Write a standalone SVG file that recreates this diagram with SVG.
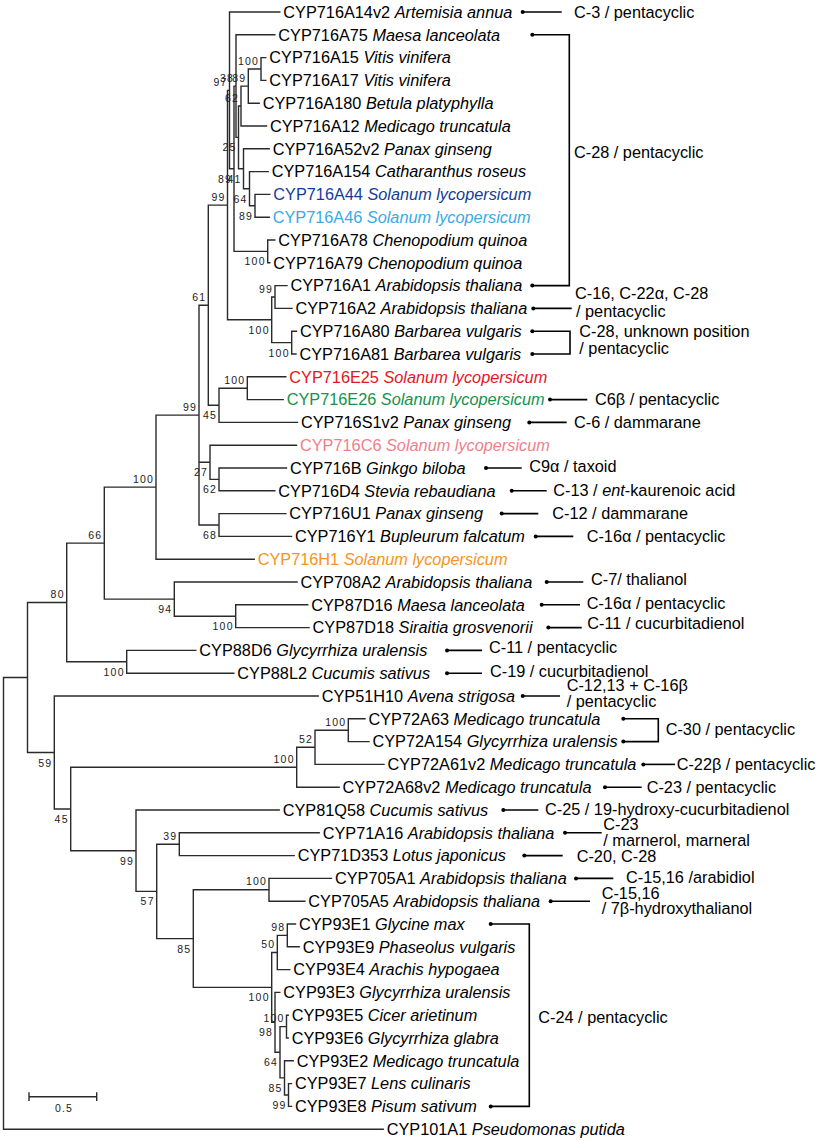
<svg xmlns="http://www.w3.org/2000/svg" width="819" height="1140" viewBox="0 0 819 1140">
<style>
.lf{font-family:"Liberation Sans",Arial,Helvetica,sans-serif;font-size:16.3px;fill:#000}
.sp{font-style:italic}
.bs{font-family:"Liberation Sans",Arial,Helvetica,sans-serif;font-size:10.5px;letter-spacing:1.2px;fill:#222;text-anchor:end}
.an{font-family:"Liberation Sans",Arial,Helvetica,sans-serif;font-size:16.3px;fill:#000}
.tr{fill:none;stroke:#2a2a2a;stroke-width:1.4;stroke-linecap:square}
.al{fill:none;stroke:#000;stroke-width:1.6}
.dt{fill:#000}
</style>
<rect width="819" height="1140" fill="#fff"/>
<g id="connectors">
<path class="tr" d="M3.5,677.5V1129.2M3.5,677.5H27.5M3.5,1129.2H383.2
M27.5,602.5V752.5M27.5,602.5H66.7M27.5,752.5H54.3
M66.7,543.1V661.8M66.7,543.1H104.3M66.7,661.8H126.7
M104.3,487.15V599.1M104.3,487.15H156M104.3,599.1H174.3
M156,415.1V559.2M156,415.1H199M156,559.2H254.2
M199,305.2V525M199,305.2H208.3M199,462.3H210M199,525H219
M208.3,205.1V405.3M208.3,205.1H227.5M208.3,405.3H219
M227.5,90.4V319.8M227.5,90.4H229.5M227.5,319.8H271.7
M229.5,12V168.75M229.5,12H279.8M229.5,168.75H234
M234,86.1V251.4M234,86.1H236M234,251.4H267.7
M236,34.8V137.4M236,34.8H274.8M236,137.4H238.5
M238.5,106.05V168.75M238.5,106.05H241M238.5,168.75H243.5
M241,86.1V126M241,86.1H248.3M241,126H266.5
M248.3,69V103.2M248.3,69H261M248.3,103.2H259.2
M261,57.6V80.4M261,57.6H265.8M261,80.4H265.8
M243.5,148.8V188.7M243.5,148.8H269.2M243.5,188.7H249.5
M249.5,171.6V205.8M249.5,171.6H268.2M249.5,205.8H255
M255,194.4V217.2M255,194.4H269.8M255,217.2H269.2
M267.7,240V262.8M267.7,240H274.8M267.7,262.8H269.8
M271.7,297V342.6M271.7,297H275M271.7,342.6H291.7
M275,285.6V308.4M275,285.6H287M275,308.4H292
M291.7,331.2V354M291.7,331.2H296.5M291.7,354H296
M219,388.2V422.4M219,388.2H247.3M219,422.4H297.5
M247.3,376.8V399.6M247.3,376.8H285.8M247.3,399.6H283.2
M210,445.2V479.4M210,445.2H296.5M210,479.4H219
M219,468V490.8M219,468H286.5M219,490.8H274.8
M219,513.6V536.4M219,513.6H285.8M219,536.4H291.5
M174.3,582V616.2M174.3,582H297M174.3,616.2H235.7
M235.7,604.8V627.6M235.7,604.8H307.7M235.7,627.6H309
M126.7,650.4V673.2M126.7,650.4H195.8M126.7,673.2H233.8
M54.3,696V808.98M54.3,696H318.2M54.3,808.98H70.7
M70.7,767.25V850.7M70.7,767.25H296.7M70.7,850.7H136
M296.7,747.3V787.2M296.7,747.3H315M296.7,787.2H339.1
M315,730.2V764.4M315,730.2H348.3M315,764.4H384
M348.3,718.8V741.6M348.3,718.8H365M348.3,741.6H369
M136,810V891.4M136,810H279.2M136,891.4H156.7
M156.7,844.2V938.6M156.7,844.2H179.3M156.7,938.6H193.3
M179.3,832.8V855.6M179.3,832.8H319.2M179.3,855.6H294.2
M193.3,889.8V987.4M193.3,889.8H269M193.3,987.4H271.7
M269,878.4V901.2M269,878.4H331.5M269,901.2H304.8
M271.7,952.5V1022.3M271.7,952.5H277.3M271.7,1022.3H275
M277.3,935.4V969.6M277.3,935.4H287.3M277.3,969.6H289.8
M287.3,924V946.8M287.3,924H295.5M287.3,946.8H299.2
M275,992.4V1052.25M275,992.4H279.8M275,1052.25H280
M280,1026.6V1077.9M280,1026.6H286.5M280,1077.9H284.5
M286.5,1015.2V1038M286.5,1015.2H288.2M286.5,1038H288.2
M284.5,1060.8V1095M284.5,1060.8H293.2M284.5,1095H288.5
M288.5,1083.6V1106.4M288.5,1083.6H291.5M288.5,1106.4H291.5"/>
</g>
<g id="bootstrap">
<text class="bs" x="64.7" y="598">80</text>
<text class="bs" x="102.3" y="538.6">66</text>
<text class="bs" x="154" y="482.6">100</text>
<text class="bs" x="197" y="410.6">99</text>
<text class="bs" x="206.3" y="300.7">61</text>
<text class="bs" x="225.5" y="200.6">99</text>
<text class="bs" x="227.5" y="85.9">97</text>
<text class="bs" x="232" y="182.7">89</text>
<text class="bs" x="234" y="81.6">38</text>
<text class="bs" x="236.5" y="151.4">25</text>
<text class="bs" x="239" y="101.5">62</text>
<text class="bs" x="246.3" y="81.6">89</text>
<text class="bs" x="259" y="64.5">100</text>
<text class="bs" x="241.5" y="182.7">41</text>
<text class="bs" x="247.5" y="202.7">64</text>
<text class="bs" x="253" y="219.8">89</text>
<text class="bs" x="265.7" y="265.4">100</text>
<text class="bs" x="269.7" y="333.8">100</text>
<text class="bs" x="273" y="292.5">99</text>
<text class="bs" x="289.7" y="356.6">100</text>
<text class="bs" x="217" y="419.3">45</text>
<text class="bs" x="245.3" y="383.7">100</text>
<text class="bs" x="208" y="476.3">27</text>
<text class="bs" x="217" y="493.4">62</text>
<text class="bs" x="217" y="539">68</text>
<text class="bs" x="172.3" y="613.1">94</text>
<text class="bs" x="233.7" y="630.2">100</text>
<text class="bs" x="124.7" y="675.8">100</text>
<text class="bs" x="52.3" y="766.5">59</text>
<text class="bs" x="68.7" y="823">45</text>
<text class="bs" x="294.7" y="762.7">100</text>
<text class="bs" x="313" y="742.8">52</text>
<text class="bs" x="346.3" y="725.7">100</text>
<text class="bs" x="134" y="864.7">99</text>
<text class="bs" x="154.7" y="905.4">57</text>
<text class="bs" x="177.3" y="839.7">39</text>
<text class="bs" x="191.3" y="952.6">85</text>
<text class="bs" x="267" y="885.3">100</text>
<text class="bs" x="269.7" y="1001.4">100</text>
<text class="bs" x="275.3" y="948">50</text>
<text class="bs" x="285.3" y="930.9">98</text>
<text class="bs" x="273" y="1036.3">98</text>
<text class="bs" x="278" y="1066.2">64</text>
<text class="bs" x="284.5" y="1022.1">100</text>
<text class="bs" x="282.5" y="1091.9">85</text>
<text class="bs" x="286.5" y="1109">99</text>
</g>
<g id="leaf-1"><text class="lf" x="283.3" y="17.8">CYP716A14v2 <tspan class="sp">Artemisia annua</tspan></text></g>
<g id="leaf-2"><text class="lf" x="278.3" y="40.6">CYP716A75 <tspan class="sp">Maesa lanceolata</tspan></text></g>
<g id="leaf-3"><text class="lf" x="269.3" y="63.4">CYP716A15 <tspan class="sp">Vitis vinifera</tspan></text></g>
<g id="leaf-4"><text class="lf" x="269.3" y="86.2">CYP716A17 <tspan class="sp">Vitis vinifera</tspan></text></g>
<g id="leaf-5"><text class="lf" x="262.7" y="109">CYP716A180 <tspan class="sp">Betula platyphylla</tspan></text></g>
<g id="leaf-6"><text class="lf" x="270" y="131.8">CYP716A12 <tspan class="sp">Medicago truncatula</tspan></text></g>
<g id="leaf-7"><text class="lf" x="272.7" y="154.6">CYP716A52v2 <tspan class="sp">Panax ginseng</tspan></text></g>
<g id="leaf-8"><text class="lf" x="271.7" y="177.4">CYP716A154 <tspan class="sp">Catharanthus roseus</tspan></text></g>
<g id="leaf-9"><text class="lf" x="273.3" y="200.2" style="fill:#133c98">CYP716A44 <tspan class="sp">Solanum lycopersicum</tspan></text></g>
<g id="leaf-10"><text class="lf" x="272.7" y="223" style="fill:#3aa9e6">CYP716A46 <tspan class="sp">Solanum lycopersicum</tspan></text></g>
<g id="leaf-11"><text class="lf" x="278.3" y="245.8">CYP716A78 <tspan class="sp">Chenopodium quinoa</tspan></text></g>
<g id="leaf-12"><text class="lf" x="273.3" y="268.6">CYP716A79 <tspan class="sp">Chenopodium quinoa</tspan></text></g>
<g id="leaf-13"><text class="lf" x="290.5" y="291.4">CYP716A1 <tspan class="sp">Arabidopsis thaliana</tspan></text></g>
<g id="leaf-14"><text class="lf" x="295.5" y="314.2">CYP716A2 <tspan class="sp">Arabidopsis thaliana</tspan></text></g>
<g id="leaf-15"><text class="lf" x="300" y="337">CYP716A80 <tspan class="sp">Barbarea vulgaris</tspan></text></g>
<g id="leaf-16"><text class="lf" x="299.5" y="359.8">CYP716A81 <tspan class="sp">Barbarea vulgaris</tspan></text></g>
<g id="leaf-17"><text class="lf" x="289.3" y="382.6" style="fill:#e5161d">CYP716E25 <tspan class="sp">Solanum lycopersicum</tspan></text></g>
<g id="leaf-18"><text class="lf" x="286.7" y="405.4" style="fill:#17924b">CYP716E26 <tspan class="sp">Solanum lycopersicum</tspan></text></g>
<g id="leaf-19"><text class="lf" x="301" y="428.2">CYP716S1v2 <tspan class="sp">Panax ginseng</tspan></text></g>
<g id="leaf-20"><text class="lf" x="300" y="451" style="fill:#ef7f8c">CYP716C6 <tspan class="sp">Solanum lycopersicum</tspan></text></g>
<g id="leaf-21"><text class="lf" x="290" y="473.8">CYP716B <tspan class="sp">Ginkgo biloba</tspan></text></g>
<g id="leaf-22"><text class="lf" x="278.3" y="496.6">CYP716D4 <tspan class="sp">Stevia rebaudiana</tspan></text></g>
<g id="leaf-23"><text class="lf" x="289.3" y="519.4">CYP716U1 <tspan class="sp">Panax ginseng</tspan></text></g>
<g id="leaf-24"><text class="lf" x="295" y="542.2">CYP716Y1 <tspan class="sp">Bupleurum falcatum</tspan></text></g>
<g id="leaf-25"><text class="lf" x="257.7" y="565" style="fill:#f7931e">CYP716H1 <tspan class="sp">Solanum lycopersicum</tspan></text></g>
<g id="leaf-26"><text class="lf" x="300.5" y="587.8">CYP708A2 <tspan class="sp">Arabidopsis thaliana</tspan></text></g>
<g id="leaf-27"><text class="lf" x="311.2" y="610.6">CYP87D16 <tspan class="sp">Maesa lanceolata</tspan></text></g>
<g id="leaf-28"><text class="lf" x="312.6" y="633.4">CYP87D18 <tspan class="sp">Siraitia grosvenorii</tspan></text></g>
<g id="leaf-29"><text class="lf" x="199.3" y="656.2">CYP88D6 <tspan class="sp">Glycyrrhiza uralensis</tspan></text></g>
<g id="leaf-30"><text class="lf" x="237.3" y="679">CYP88L2 <tspan class="sp">Cucumis sativus</tspan></text></g>
<g id="leaf-31"><text class="lf" x="321.7" y="701.8">CYP51H10 <tspan class="sp">Avena strigosa</tspan></text></g>
<g id="leaf-32"><text class="lf" x="368.5" y="724.6">CYP72A63 <tspan class="sp">Medicago truncatula</tspan></text></g>
<g id="leaf-33"><text class="lf" x="372.5" y="747.4">CYP72A154 <tspan class="sp">Glycyrrhiza uralensis</tspan></text></g>
<g id="leaf-34"><text class="lf" x="387.5" y="770.2">CYP72A61v2 <tspan class="sp">Medicago truncatula</tspan></text></g>
<g id="leaf-35"><text class="lf" x="342.6" y="793">CYP72A68v2 <tspan class="sp">Medicago truncatula</tspan></text></g>
<g id="leaf-36"><text class="lf" x="282.7" y="815.8">CYP81Q58 <tspan class="sp">Cucumis sativus</tspan></text></g>
<g id="leaf-37"><text class="lf" x="322.7" y="838.6">CYP71A16 <tspan class="sp">Arabidopsis thaliana</tspan></text></g>
<g id="leaf-38"><text class="lf" x="297.7" y="861.4">CYP71D353 <tspan class="sp">Lotus japonicus</tspan></text></g>
<g id="leaf-39"><text class="lf" x="335" y="884.2">CYP705A1 <tspan class="sp">Arabidopsis thaliana</tspan></text></g>
<g id="leaf-40"><text class="lf" x="308.3" y="907">CYP705A5 <tspan class="sp">Arabidopsis thaliana</tspan></text></g>
<g id="leaf-41"><text class="lf" x="299" y="929.8">CYP93E1 <tspan class="sp">Glycine max</tspan></text></g>
<g id="leaf-42"><text class="lf" x="302.7" y="952.6">CYP93E9 <tspan class="sp">Phaseolus vulgaris</tspan></text></g>
<g id="leaf-43"><text class="lf" x="293.3" y="975.4">CYP93E4 <tspan class="sp">Arachis hypogaea</tspan></text></g>
<g id="leaf-44"><text class="lf" x="283.3" y="998.2">CYP93E3 <tspan class="sp">Glycyrrhiza uralensis</tspan></text></g>
<g id="leaf-45"><text class="lf" x="291.7" y="1021">CYP93E5 <tspan class="sp">Cicer arietinum</tspan></text></g>
<g id="leaf-46"><text class="lf" x="291.7" y="1043.8">CYP93E6 <tspan class="sp">Glycyrrhiza glabra</tspan></text></g>
<g id="leaf-47"><text class="lf" x="296.7" y="1066.6">CYP93E2 <tspan class="sp">Medicago truncatula</tspan></text></g>
<g id="leaf-48"><text class="lf" x="295" y="1089.4">CYP93E7 <tspan class="sp">Lens culinaris</tspan></text></g>
<g id="leaf-49"><text class="lf" x="295" y="1112.2">CYP93E8 <tspan class="sp">Pisum sativum</tspan></text></g>
<g id="leaf-50"><text class="lf" x="386.7" y="1135">CYP101A1 <tspan class="sp">Pseudomonas putida</tspan></text></g>
<g id="annotations">
<g id="ann-c3"><circle class="dt" cx="522.7" cy="12" r="2"/><path class="al" d="M522.7,12H561.7"/><text class="an" x="574" y="17.8">C-3 / pentacyclic</text></g>
<g id="ann-c28"><circle class="dt" cx="532.3" cy="34.8" r="2"/><circle class="dt" cx="532.3" cy="285.6" r="2"/><path class="al" d="M532.3,34.8H569.3V285.6H532.3"/><text class="an" x="574" y="157.8">C-28 / pentacyclic</text></g>
<g id="ann-c16"><circle class="dt" cx="533.3" cy="308.4" r="2"/><path class="al" d="M533.3,308.4H571.7"/><text class="an" x="575" y="299">C-16, C-22α, C-28</text><text class="an" x="576" y="317">/ pentacyclic</text></g>
<g id="ann-c28u"><circle class="dt" cx="532.3" cy="331.2" r="2"/><circle class="dt" cx="532.3" cy="354" r="2"/><path class="al" d="M532.3,331.2H570V354H532.3"/><text class="an" x="579.3" y="336.5">C-28, unknown position</text><text class="an" x="579.3" y="354">/ pentacyclic</text></g>
<g id="ann-c6b"><circle class="dt" cx="550" cy="399.6" r="2"/><path class="al" d="M550,399.6H587.3"/><text class="an" x="595" y="405.4">C6β / pentacyclic</text></g>
<g id="ann-c6"><circle class="dt" cx="529.3" cy="422.4" r="2"/><path class="al" d="M529.3,422.4H566.7"/><text class="an" x="574" y="428.2">C-6 / dammarane</text></g>
<g id="ann-c9"><circle class="dt" cx="486" cy="468" r="2"/><path class="al" d="M486,468H521.7"/><text class="an" x="529.3" y="472">C9α / taxoid</text></g>
<g id="ann-c13"><circle class="dt" cx="511.7" cy="490.8" r="2"/><path class="al" d="M511.7,490.8H546.7"/><text class="an" x="553.3" y="495.5">C-13 / <tspan class="sp">ent</tspan>-kaurenoic acid</text></g>
<g id="ann-c12"><circle class="dt" cx="501.7" cy="513.6" r="2"/><path class="al" d="M501.7,513.6H538.3"/><text class="an" x="552.3" y="518.5">C-12 / dammarane</text></g>
<g id="ann-c16a"><circle class="dt" cx="535.7" cy="536.4" r="2"/><path class="al" d="M535.7,536.4H573.3"/><text class="an" x="586.7" y="541.8">C-16α / pentacyclic</text></g>
<g id="ann-c7"><circle class="dt" cx="546.7" cy="582" r="2"/><path class="al" d="M546.7,582H583.3"/><text class="an" x="591" y="585">C-7/ thalianol</text></g>
<g id="ann-c16b"><circle class="dt" cx="541.7" cy="604.8" r="2"/><path class="al" d="M541.7,604.8H580"/><text class="an" x="586.7" y="609">C-16α / pentacyclic</text></g>
<g id="ann-c11a"><circle class="dt" cx="548.3" cy="627.6" r="2"/><path class="al" d="M548.3,627.6H581.7"/><text class="an" x="587.3" y="628.5">C-11 / cucurbitadienol</text></g>
<g id="ann-c11b"><circle class="dt" cx="447" cy="650.4" r="2"/><path class="al" d="M447,650.4H482"/><text class="an" x="489" y="652.5">C-11 / pentacyclic</text></g>
<g id="ann-c19"><circle class="dt" cx="447" cy="673.2" r="2"/><path class="al" d="M447,673.2H482"/><text class="an" x="490" y="677">C-19 / cucurbitadienol</text></g>
<g id="ann-c1213"><circle class="dt" cx="522.7" cy="696" r="2"/><path class="al" d="M522.7,696H560"/><text class="an" x="566.7" y="691">C-12,13 + C-16β</text><text class="an" x="566.7" y="706.5">/ pentacyclic</text></g>
<g id="ann-c30"><circle class="dt" cx="623.3" cy="718.8" r="2"/><circle class="dt" cx="623.3" cy="741.6" r="2"/><path class="al" d="M623.3,718.8H658.3V741.6H623.3"/><text class="an" x="665.7" y="735">C-30 / pentacyclic</text></g>
<g id="ann-c22b"><circle class="dt" cx="643.3" cy="764.4" r="2"/><path class="al" d="M643.3,764.4H675"/><text class="an" x="676.7" y="769.8">C-22β / pentacyclic</text></g>
<g id="ann-c23a"><circle class="dt" cx="605" cy="787.2" r="2"/><path class="al" d="M605,787.2H641.7"/><text class="an" x="646.7" y="792.5">C-23 / pentacyclic</text></g>
<g id="ann-c25"><circle class="dt" cx="503.3" cy="810" r="2"/><path class="al" d="M503.3,810H538.3"/><text class="an" x="545" y="815">C-25 / 19-hydroxy-cucurbitadienol</text></g>
<g id="ann-c23b"><circle class="dt" cx="565" cy="832.8" r="2"/><path class="al" d="M565,832.8H601.7"/><text class="an" x="603.3" y="830">C-23</text><text class="an" x="603.3" y="846">/ marnerol, marneral</text></g>
<g id="ann-c20"><circle class="dt" cx="524.3" cy="855.6" r="2"/><path class="al" d="M524.3,855.6H562.7"/><text class="an" x="576.7" y="862">C-20, C-28</text></g>
<g id="ann-c15a"><circle class="dt" cx="576" cy="878.4" r="2"/><path class="al" d="M576,878.4H613.3"/><text class="an" x="626" y="882.5">C-15,16 /arabidiol</text></g>
<g id="ann-c15b"><circle class="dt" cx="550.7" cy="901.2" r="2"/><path class="al" d="M550.7,901.2H590"/><text class="an" x="601.7" y="898.5">C-15,16</text><text class="an" x="601.7" y="914">/ 7β-hydroxythalianol</text></g>
<g id="ann-c24"><circle class="dt" cx="490.7" cy="924" r="2"/><circle class="dt" cx="490.7" cy="1106.4" r="2"/><path class="al" d="M490.7,924H529.3V1106.4H490.7"/><text class="an" x="538.3" y="1022.5">C-24 / pentacyclic</text></g>
</g>
<g id="scale-bar">
<path class="tr" d="M29,1096.7H96.7M29,1093V1100.4M96.7,1093V1100.4"/>
<text class="bs" x="64" y="1111.5" style="text-anchor:middle">0.5</text>
</g>
</svg>
